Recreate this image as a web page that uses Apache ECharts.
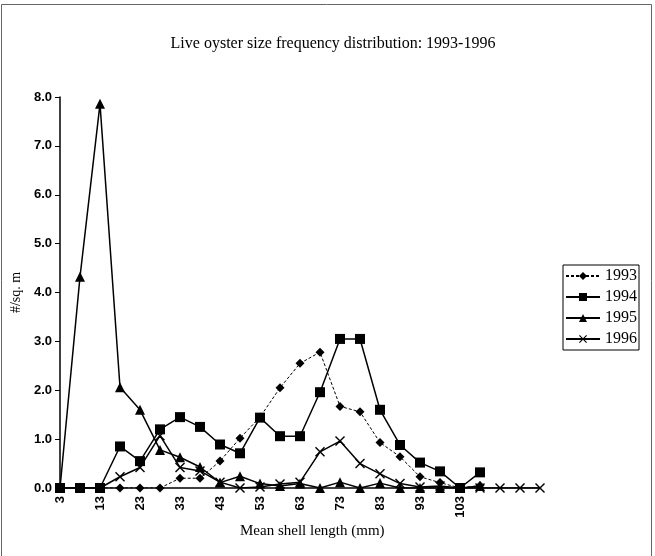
<!DOCTYPE html>
<html>
<head>
<meta charset="utf-8">
<script src="https://cdn.jsdelivr.net/npm/echarts@6/dist/echarts.min.js"></script>
<style>
  html, body { margin: 0; padding: 0; background: #fff; }
  #chart { width: 655px; height: 556px; }
</style>
</head>
<body>
<div id="chart"></div>
<script>
// mean shell length classes (mm); the last three have no label in the original
const lengths = [3, 8, 13, 18, 23, 28, 33, 38, 43, 48, 53, 58, 63, 68, 73, 78, 83, 88, 93, 98, 103, 108, 113, 118, 123];
const lastLabelled = 103;

const y1993 = [0, 0, 0, 0, 0, 0, 0.2, 0.2, 0.55, 1.02, 1.45, 2.05, 2.55, 2.78, 1.67, 1.56, 0.93, 0.64, 0.23, 0.11, 0, 0.05];
const y1994 = [0, 0, 0, 0.85, 0.55, 1.2, 1.45, 1.25, 0.89, 0.71, 1.44, 1.06, 1.06, 1.96, 3.05, 3.05, 1.6, 0.88, 0.52, 0.34, 0, 0.32];
const y1995 = [0, 4.32, 7.86, 2.06, 1.6, 0.78, 0.63, 0.43, 0.11, 0.24, 0.09, 0.04, 0.09, 0, 0.12, 0, 0.1, 0, 0, 0, 0, 0.04];
const y1996 = [0, 0, 0, 0.23, 0.42, 1.07, 0.42, 0.35, 0.12, 0, 0.02, 0.08, 0.12, 0.74, 0.96, 0.5, 0.29, 0.09, 0.02, 0.04, 0, 0, 0, 0, 0];

const serif = '"Liberation Serif", "DejaVu Serif", serif';
const sans = '"Liberation Sans", Arial, sans-serif';
const crossPath = 'path://M0,1L1,0L5,4L9,0L10,1L6,5L10,9L9,10L5,6L1,10L0,9L4,5Z';

const chart = echarts.init(document.getElementById('chart'));

function lineSeries(name, data, symbol, size, dashed) {
  return {
    name: name,
    type: 'line',
    data: data,
    symbol: symbol,
    symbolSize: size,
    showAllSymbol: true,
    itemStyle: { color: '#000' },
    lineStyle: { color: '#000', width: dashed ? 1 : 1.5, type: dashed ? [3, 2] : 'solid' },
    animation: false
  };
}

chart.setOption({
  backgroundColor: '#fff',
  title: {
    text: 'Live oyster size frequency distribution: 1993-1996',
    left: 328,
    textAlign: 'center',
    top: 31,
    textStyle: { fontFamily: serif, fontSize: 16, fontWeight: 'normal', color: '#000' }
  },
  grid: { left: 60, right: 115, top: 97, bottom: 68 },
  legend: {
    orient: 'vertical',
    left: 563,
    top: 265,
    itemWidth: 34,
    itemHeight: 10,
    itemGap: 5,
    padding: [3, 2, 3, 2],
    borderColor: '#000',
    borderWidth: 1,
    textStyle: { fontFamily: serif, fontSize: 16, color: '#000' },
    data: ['1993', '1994', '1995', '1996']
  },
  xAxis: {
    type: 'category',
    boundaryGap: false,
    data: lengths.map(String),
    axisLine: { lineStyle: { color: '#000', width: 1.5 } },
    axisTick: { show: false },
    axisLabel: {
      interval: 1,
      rotate: 90,
      margin: 8,
      fontFamily: sans,
      fontSize: 13,
      fontWeight: 'bold',
      color: '#000',
      formatter: v => (Number(v) <= lastLabelled ? v : '')
    },
    splitLine: { show: false }
  },
  yAxis: {
    type: 'value',
    min: 0,
    max: 8,
    interval: 1,
    name: '#/sq. m',
    nameLocation: 'middle',
    nameGap: 36,
    nameTextStyle: { fontFamily: serif, fontSize: 14, color: '#000' },
    axisLine: { show: true, lineStyle: { color: '#000', width: 1.5 } },
    axisTick: { show: true, length: 5, lineStyle: { color: '#000' } },
    axisLabel: {
      margin: 8,
      fontFamily: sans,
      fontSize: 13,
      fontWeight: 'bold',
      color: '#000',
      formatter: v => v.toFixed(1)
    },
    splitLine: { show: false }
  },
  graphic: [
    {
      type: 'rect',
      shape: { x: 1.5, y: 4.5, width: 650, height: 560 },
      style: { fill: 'none', stroke: '#666', lineWidth: 1 },
      silent: true
    },
    {
      type: 'text',
      left: 240,
      top: 524,
      style: { text: 'Mean shell length (mm)', font: '15px ' + serif, fill: '#000' }
    }
  ],
  series: [
    lineSeries('1993', y1993, 'diamond', 9, true),
    lineSeries('1994', y1994, 'rect', 10, false),
    lineSeries('1995', y1995, 'triangle', 10, false),
    lineSeries('1996', y1996, crossPath, 10, false)
  ]
});
</script>
</body>
</html>
